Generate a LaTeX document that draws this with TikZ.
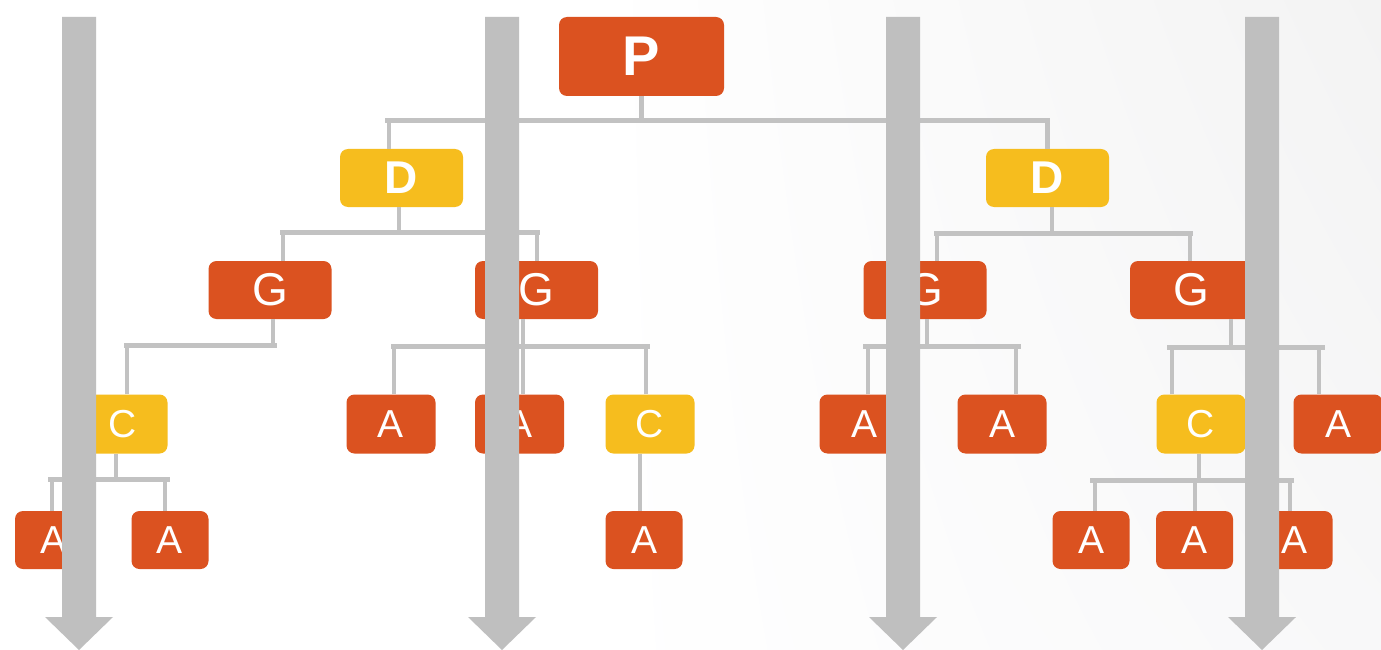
\documentclass[tikz,border=0pt]{standalone}
\usepackage{fontspec}
\setmainfont{Liberation Sans}
\usetikzlibrary{shadings}
\definecolor{org}{HTML}{DB5220}
\definecolor{yel}{HTML}{F6BD1E}
\definecolor{arr}{HTML}{BFBFBF}
\definecolor{con}{HTML}{C2C2C2}
\definecolor{bgtr}{HTML}{F3F3F3}
\definecolor{bgbr}{HTML}{F8F8F9}
\begin{document}
\begin{tikzpicture}[x=1pt,y=-1pt,
  box/.style={rounded corners=8pt, inner sep=0pt, text=white},
  obox/.style={box, fill=org},
  ybox/.style={box, fill=yel},
  top/.style={minimum width=165pt, minimum height=79pt, font=\fontsize{56}{56}\selectfont\bfseries},
  mid/.style={minimum width=123pt, minimum height=58pt},
  dfont/.style={font=\fontsize{46}{46}\selectfont\bfseries},
  gfont/.style={font=\fontsize{46}{46}\selectfont},
  wide/.style={minimum width=89pt, minimum height=59pt, font=\fontsize{39}{39}\selectfont},
  small/.style={minimum width=77pt, minimum height=58pt, font=\fontsize{39}{39}\selectfont},
  conn/.style={draw=con, line width=4.5pt},
  bar/.style={draw=con, line width=5pt},
  flow/.pic={\fill[arr] (-17,0) -- (17,0) -- (17,600) -- (34,600) -- (0,633) -- (-34,600) -- (-17,600) -- cycle;}
]
\useasboundingbox (0,0) rectangle (1381,650);
\fill[white] (0,0) rectangle (1381,650);
\shade[upper left=white, lower left=white, upper right=bgtr, lower right=bgbr] (600,0) rectangle (1381,650);

% nodes
\node[obox,top] (P) at (641.5,56.5) {P};
\node[ybox,mid,dfont] (Dl) at (401.5,178) {D};
\node[ybox,mid,dfont] (Dr) at (1047.5,178) {D};
\node[obox,mid,gfont] (G1) at (270,290) {G};
\node[obox,mid,gfont] (G2) at (536.5,290) {G};
\node[obox,mid,gfont] (G3) at (925,290) {G};
\node[obox,mid,gfont] (G4) at (1191.5,290) {G};
\node[ybox,wide] (C1) at (123,424) {C};
\node[obox,wide] (A1) at (391,424) {A};
\node[obox,wide] (A2) at (519.5,424) {A};
\node[ybox,wide] (C2) at (650,424) {C};
\node[obox,wide] (A3) at (864,424) {A};
\node[obox,wide] (A4) at (1002,424) {A};
\node[ybox,wide] (C3) at (1201,424) {C};
\node[obox,wide] (A5) at (1338,424) {A};
\node[obox,small] (A6) at (53.5,540) {A};
\node[obox,small] (A7) at (170,540) {A};
\node[obox,small] (A8) at (644,540) {A};
\node[obox,small] (A9) at (1091,540) {A};
\node[obox,small] (A10) at (1194.5,540) {A};
\node[obox,small] (A11) at (1294,540) {A};

% bar end points
\coordinate (bP1) at (385,121);   \coordinate (bP2) at (1050,121);
\coordinate (bDl1) at (280,232);  \coordinate (bDl2) at (540,232);
\coordinate (bDr1) at (934,233);  \coordinate (bDr2) at (1193,233);
\coordinate (bG11) at (124,345);  \coordinate (bG12) at (277,345);
\coordinate (bG21) at (391,346);  \coordinate (bG22) at (650,346);
\coordinate (bG31) at (863,346);  \coordinate (bG32) at (1021,346);
\coordinate (bG41) at (1167,347); \coordinate (bG42) at (1325,347);
\coordinate (bC11) at (48,479);   \coordinate (bC12) at (170,479);
\coordinate (bC31) at (1090,480); \coordinate (bC32) at (1294,480);

% P
\draw[conn] (P.south) -- ++(0,25);
\draw[bar] (bP1) -- (bP2);
\draw[conn] ([xshift=-12.5pt]Dl.north) -- ++(0,-28);
\draw[conn] (Dr.north) -- ++(0,-28);
% D left
\draw[conn] ([xshift=-2.5pt]Dl.south) -- ++(0,25);
\draw[bar] (bDl1) -- (bDl2);
\draw[conn] ([xshift=13pt]G1.north) -- ++(0,-29);
\draw[conn] ([xshift=0.5pt]G2.north) -- ++(0,-29);
% D right
\draw[conn] ([xshift=4.5pt]Dr.south) -- ++(0,26);
\draw[bar] (bDr1) -- (bDr2);
\draw[conn] ([xshift=12pt]G3.north) -- ++(0,-28);
\draw[conn] ([xshift=-1.5pt]G4.north) -- ++(0,-28);
% G1
\draw[conn] ([xshift=3pt]G1.south) -- ++(0,26);
\draw[bar] (bG11) -- (bG12);
\draw[conn] ([xshift=4pt]C1.north) -- ++(0,-50);
% G2
\draw[conn] ([xshift=-13.5pt]G2.south) -- ([xshift=3.5pt]A2.north);
\draw[bar] (bG21) -- (bG22);
\draw[conn] ([xshift=3pt]A1.north) -- ++(0,-49);
\draw[conn] ([xshift=-4pt]C2.north) -- ++(0,-49);
% C2
\draw[conn] ([xshift=-10pt]C2.south) -- ([xshift=-4pt]A8.north);
% G3
\draw[conn] ([xshift=2pt]G3.south) -- ++(0,27);
\draw[bar] (bG31) -- (bG32);
\draw[conn] ([xshift=4pt]A3.north) -- ++(0,-48);
\draw[conn] ([xshift=14pt]A4.north) -- ++(0,-48);
% G4
\draw[conn] ([xshift=39.5pt]G4.south) -- ++(0,28);
\draw[bar] (bG41) -- (bG42);
\draw[conn] ([xshift=-29pt]C3.north) -- ++(0,-47);
\draw[conn] ([xshift=-19pt]A5.north) -- ++(0,-47);
% C3
\draw[conn] ([xshift=-2pt]C3.south) -- ++(0,27);
\draw[bar] (bC31) -- (bC32);
\draw[conn] ([xshift=4pt]A9.north) -- ++(0,-31);
\draw[conn] ([xshift=0.5pt]A10.north) -- ++(0,-31);
\draw[conn] ([xshift=-4pt]A11.north) -- ++(0,-31);
% C1
\draw[conn] ([xshift=-7pt]C1.south) -- ++(0,26);
\draw[bar] (bC11) -- (bC12);
\draw[conn] ([xshift=-1.5pt]A6.north) -- ++(0,-32);
\draw[conn] ([xshift=-5pt]A7.north) -- ++(0,-32);

% flow arrows on top
\pic at (79,17) {flow};
\pic at (502,17) {flow};
\pic at (903,17) {flow};
\pic at (1262,17) {flow};
\end{tikzpicture}
\end{document}
